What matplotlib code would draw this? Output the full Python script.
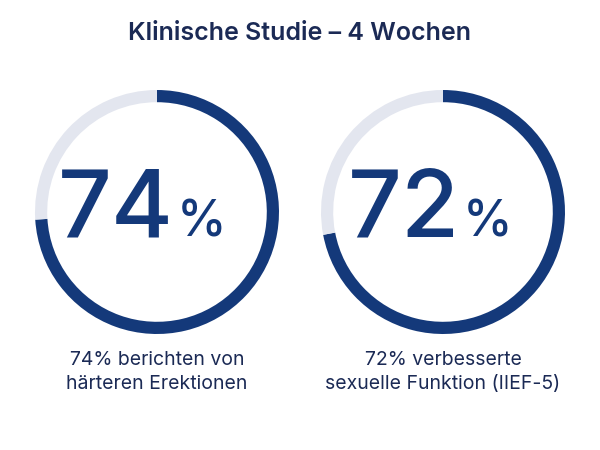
import matplotlib
matplotlib.use("Agg")
import matplotlib.pyplot as plt

title = "Klinische Studie – 4 Wochen"
values = [74, 72]
labels = ["74% berichten von\nhärteren Erektionen", "72% verbesserte\nsexuelle Funktion (IIEF-5)"]
navy = "#14397a"
grey = "#e3e6ef"
plt.rcParams['font.family'] = ['Inter', 'DejaVu Sans']

fig = plt.figure(figsize=(6, 4.5), dpi=100)
W, H = 600, 450
fig.text(0.5, 1 - 33 / H, title, ha='center', va='center', fontsize=18, color="#1b2a55", fontweight='semibold')

centers = [157, 443]
R = 122
for cx, v, lab in zip(centers, values, labels):
    ax = fig.add_axes([(cx - R) / W, (H - 212 - R) / H, 2 * R / W, 2 * R / H])
    ax.pie([v, 100 - v], colors=[navy, grey], startangle=90, counterclock=False,
           radius=1, wedgeprops=dict(width=0.1, linewidth=0))
    ax.set_xlim(-1, 1)
    ax.set_ylim(-1, 1)
    ax.set_aspect('equal')
    ax.axis('off')
    fig.text((cx + 17) / W, 1 - 236 / H, str(v), ha='right', va='baseline', fontsize=68, color=navy, fontweight='medium')
    fig.text((cx + 20) / W, 1 - 236 / H, "%", ha='left', va='baseline', fontsize=36, color=navy, fontweight='medium')
    fig.text(cx / W, 1 - 372 / H, lab, ha='center', va='center', fontsize=14, color="#1b2a55", linespacing=1.45)

fig.savefig("out.png", dpi=100, facecolor='white')
